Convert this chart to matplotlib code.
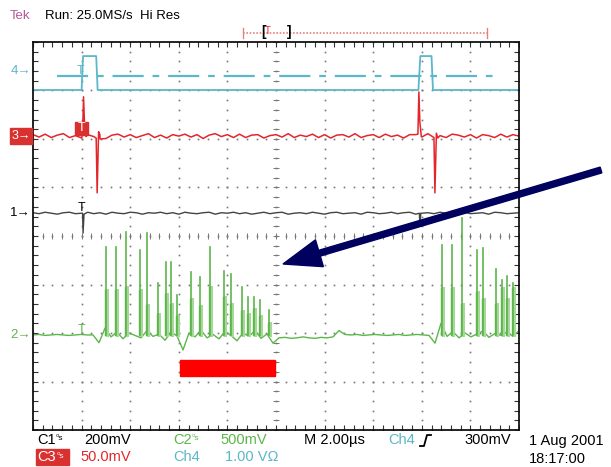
import numpy as np
import matplotlib
matplotlib.use("Agg")
import matplotlib.pyplot as plt
from matplotlib.patches import Rectangle, FancyArrow

plt.rcParams['font.family'] = ['Liberation Sans', 'DejaVu Sans']

# screen is 10 x 8 divisions; values below are in divisions
ch4_t = [0.0, 1.00, 1.03, 1.30, 1.33, 7.93, 7.97, 8.20, 8.23, 10.0]
ch4_v = [7.01, 7.01, 7.71, 7.71, 7.01, 7.01, 7.71, 7.71, 7.01, 7.01]
ch4_trig_level = 7.30

ch3_base = 6.06
ch3_noise = [0.03, -0.02, 0.04, -0.03, 0.02, 0.05, -0.03, 0.01, -0.04, 0.03,
             -0.01, 0.03, -0.05, 0.02, 0.04, -0.02, 0.03, -0.03, 0.01, 0.05,
             -0.03, 0.02, -0.04, 0.03, 0.00, 0.04, -0.02, 0.03, -0.05, 0.02,
             0.05, -0.01, 0.03, -0.03, 0.04, -0.03, 0.02, 0.03, -0.04, 0.01,
             0.03, -0.02, 0.05, -0.03, 0.02, -0.01, 0.04, -0.03, 0.03, -0.04,
             0.02, 0.03, -0.02, 0.05, -0.03, 0.01, 0.03, -0.03, 0.04, -0.01,
             0.02, -0.04, 0.03, 0.03, -0.02, 0.05, -0.03, 0.01, -0.03, 0.04,
             0.02, -0.02, 0.03, -0.04, 0.03, 0.01, -0.03, 0.04, -0.02, 0.03, 0.00]
ch3_spike_t = [1.02, 1.04, 1.06, 1.09, 1.30, 1.32, 1.35, 1.38,
               7.92, 7.94, 7.96, 7.99, 8.25, 8.27, 8.30, 8.33]
ch3_spike_v = [6.10, 6.87, 6.30, 6.05, 6.02, 4.89, 6.15, 6.00,
               6.10, 6.97, 6.35, 6.05, 6.02, 4.89, 6.12, 6.02]

ch1_base = 4.47
ch1_noise = [0.01, -0.01, 0.02, 0.00, -0.02, 0.01, 0.02, -0.01, 0.00, 0.02,
             -0.01, 0.01, -0.02, 0.02, 0.00, -0.01, 0.02, 0.01, -0.02, 0.01,
             0.00, 0.02, -0.01, 0.01, -0.02, 0.02, 0.00, -0.01, 0.01, 0.02,
             -0.02, 0.01, 0.00, 0.02, -0.01, 0.01, -0.02, 0.00, 0.02, -0.01,
             0.01, 0.02, -0.02, 0.00, 0.01, -0.01, 0.02, 0.00, -0.02, 0.01,
             0.02, -0.01, 0.00, 0.01, -0.02, 0.02, 0.01, -0.01, 0.00, 0.02,
             -0.01, 0.01, 0.02, -0.02, 0.00, 0.01, -0.01, 0.02, 0.00, -0.02,
             0.01, 0.02, -0.01, 0.00, 0.01, -0.02, 0.02, 0.01, -0.01, 0.00, 0.01]
ch1_glitch_t = [1.02, 1.03, 1.05, 7.95, 7.96, 7.98]
ch1_glitch_v = [4.47, 4.06, 4.45, 4.47, 4.21, 4.47]

ch2_v = [1.96, 1.97, 1.95, 1.96, 1.97, 1.96, 1.95, 1.96, 1.97, 1.96, 1.96,
         1.80, 2.10, 1.92, 2.02, 1.88, 2.00, 1.95, 1.90, 2.05, 1.93,
         1.98, 1.85, 2.02, 1.94, 1.65, 2.00, 1.92, 2.06, 1.90, 1.97,
         1.88, 2.03, 1.95, 1.84, 2.00, 1.93, 2.05, 1.89, 1.98, 1.79,
         1.90, 1.91, 1.89, 1.90, 1.92, 1.90, 1.89, 1.91, 1.90, 1.92,
         2.05, 1.97, 1.96, 1.97, 1.95, 1.96, 1.97, 1.96, 1.95, 1.96,
         1.97, 1.95, 1.96, 1.97, 1.96, 1.95, 1.79, 2.20, 1.93, 2.03,
         1.90, 2.00, 1.92, 1.98, 2.04, 1.91, 1.99, 1.95, 2.02, 1.93, 2.05]
ch2_spike_t = [1.50, 1.71, 1.91, 2.20, 2.35, 2.57, 2.74, 2.84, 2.96, 3.25,
               3.44, 3.64, 3.93, 4.07, 4.30, 4.42, 4.55, 4.67, 4.86,
               8.42, 8.62, 8.83, 9.14, 9.26, 9.53, 9.65, 9.75, 9.88]
ch2_spike_top = [3.77, 3.77, 4.08, 3.71, 4.06, 3.03, 3.46, 3.46, 2.78, 3.26,
                 3.15, 3.77, 3.28, 3.22, 2.95, 2.74, 2.74, 2.68, 2.47,
                 3.81, 3.81, 4.37, 3.71, 3.75, 3.32, 3.09, 3.18, 3.03]
ch2_spike_mid = [2.89, 2.89, 2.95, 2.89, 2.58, 2.40, 2.80, 2.60, 2.35, 2.70,
                 2.55, 2.95, 2.75, 2.60, 2.45, 2.40, 2.50, 2.35, 2.20,
                 2.93, 2.93, 2.60, 2.85, 2.70, 2.60, 2.93, 2.70, 2.93]

cyan = '#5bb7c9'
red = '#e3262b'
green = '#5cb64a'
pale_green = '#a6d89c'
navy = '#00005e'

fig = plt.figure(figsize=(6.11, 4.67), dpi=100)
ax = fig.add_axes([33 / 611, 37 / 467, 486 / 611, 388 / 467])
ax.set_xlim(0, 10)
ax.set_ylim(0, 8)
ax.set_xticks([])
ax.set_yticks([])
for s in ax.spines.values():
    s.set_linewidth(1.3)
    s.set_color('#111111')

# graticule
fine = np.arange(0, 10.01, 0.2)
fine_y = np.arange(0, 8.01, 0.2)
for k in range(1, 10):
    ax.plot(np.full_like(fine_y, k), fine_y, ls='none', marker='s', ms=1.2, color='#777777', mew=0)
for j in range(1, 8):
    ax.plot(fine, np.full_like(fine, j), ls='none', marker='s', ms=1.2, color='#777777', mew=0)
ax.plot(np.full_like(fine_y, 5), fine_y, ls='none', marker='_', ms=4, color='#777777', mew=0.7)
ax.plot(fine, np.full_like(fine, 4), ls='none', marker='|', ms=4, color='#777777', mew=0.7)
ax.plot(fine, np.full_like(fine, 8), ls='none', marker='|', ms=7, color='#333333', mew=0.8)
ax.plot(fine, np.full_like(fine, 0), ls='none', marker='|', ms=7, color='#333333', mew=0.8)
ax.plot(np.full_like(fine_y, 0), fine_y, ls='none', marker='_', ms=7, color='#333333', mew=0.8)
ax.plot(np.full_like(fine_y, 10), fine_y, ls='none', marker='_', ms=7, color='#333333', mew=0.8)

# channel 4
ax.plot(ch4_t, ch4_v, color=cyan, lw=1.3)
ax.plot([0.49, 9.47], [ch4_trig_level, ch4_trig_level], color=cyan, lw=1.6,
        dashes=(14, 4, 3, 4))
ax.text(0.98, ch4_trig_level - 0.03, 'T', color=cyan, fontsize=9, ha='center', va='bottom')

# channel 3
t81 = np.linspace(0, 10, len(ch3_noise))
r_t = np.concatenate([t81, ch3_spike_t])
r_v = np.concatenate([ch3_base + np.array(ch3_noise), ch3_spike_v])
order = np.argsort(r_t)
ax.plot(r_t[order], r_v[order], color=red, lw=1.1)
ax.add_patch(Rectangle((0.87, 6.08), 0.27, 0.28, color='#d93030', zorder=4))
ax.text(1.005, 6.22, 'T', color='white', fontsize=9, ha='center', va='center', zorder=5)

# channel 1
b_t = np.concatenate([t81, ch1_glitch_t])
b_v = np.concatenate([ch1_base + np.array(ch1_noise), ch1_glitch_v])
order = np.argsort(b_t)
ax.plot(b_t[order], b_v[order], color='#444444', lw=1.0)
ax.text(1.0, ch1_base - 0.02, 'T', color='black', fontsize=9, ha='center', va='bottom')

# channel 2
ax.plot(np.linspace(0, 10, len(ch2_v)), ch2_v, color=green, lw=1.0)
for t0, top, mid in zip(ch2_spike_t, ch2_spike_top, ch2_spike_mid):
    ax.plot([t0 + 0.025, t0 + 0.025], [1.96, mid], color=pale_green, lw=2.2)
    ax.plot([t0 - 0.02, t0 - 0.02], [1.96, mid], color=green, lw=1.0)
    ax.plot([t0, t0], [1.96, top], color=green, lw=1.2)
ax.text(1.0, 1.96 - 0.02, 'T', color=green, fontsize=9, ha='center', va='bottom')

# overlay in pixel coordinates
ov = fig.add_axes([0, 0, 1, 1], zorder=10)
ov.set_xlim(0, 611)
ov.set_ylim(467, 0)
ov.axis('off')
ov.patch.set_alpha(0)

fs = 10.5
ov.text(10, 16, 'Tek', color='#b05a9a', fontsize=9.5, va='center')
ov.text(45, 16, 'Run: 25.0MS/s', color='black', fontsize=9.5, va='center')
ov.text(140, 16, 'Hi Res', color='black', fontsize=9.5, va='center')
ov.text(555, 3, '18:17:00', color='black', fontsize=fs, va='bottom')

# record window indicator
ov.plot([243, 487], [33, 33], color='#e88080', lw=1.2, ls=(0, (1, 1)))
ov.plot([243, 243], [28, 38], color='#e88080', lw=1)
ov.plot([487, 487], [28, 38], color='#e88080', lw=1)
ov.text(264, 32, '[', color='black', fontsize=10, fontweight='bold', ha='center', va='center')
ov.text(289, 32, ']', color='black', fontsize=10, fontweight='bold', ha='center', va='center')
ov.text(268, 31, 'T', color=red, fontsize=7, ha='center', va='center')

# channel ground markers
ov.text(31, 71, '4\u2192', color=cyan, fontsize=9.5, ha='right', va='center')
ov.add_patch(Rectangle((10, 128), 22, 16, color='#d93030'))
ov.text(31, 136, '3\u2192', color='white', fontsize=9, ha='right', va='center')
ov.text(31, 213, '1\u2192', color='black', fontsize=9.5, ha='right', va='center')
ov.text(31, 335, '2\u2192', color=green, fontsize=9.5, ha='right', va='center')

# annotation arrow and bar
ov.add_patch(FancyArrow(601, 170, 283 - 601, 264 - 170, width=6, head_width=28,
                        head_length=38, length_includes_head=True, color=navy))
ov.add_patch(Rectangle((180, 360), 95, 16, color='#ff0000'))

# readout
r1, r2 = 440, 457
ov.text(37, r1, 'C1', color='black', fontsize=fs, va='center')
ov.text(56, r1 - 1, '\u2070s', color='black', fontsize=6, va='center')
ov.text(84, r1, '200mV', color='black', fontsize=fs, va='center')
ov.text(173, r1, 'C2', color=green, fontsize=fs, va='center')
ov.text(192, r1 - 1, '\u2070s', color=green, fontsize=6, va='center')
ov.text(220, r1, '500mV', color=green, fontsize=fs, va='center')
ov.text(304, r1, 'M 2.00\u00b5s', color='black', fontsize=fs, va='center')
ov.text(388, r1, 'Ch4', color=cyan, fontsize=fs, va='center')
ov.plot([420, 424, 427, 431], [446, 446, 435, 435], color='black', lw=1.3)
ov.text(464, r1, '300mV', color='black', fontsize=fs, va='center')
ov.add_patch(Rectangle((36, 449), 33, 16, color='#d93030'))
ov.text(37, r2, 'C3', color='white', fontsize=fs, va='center')
ov.text(57, r2 - 1, '\u2070s', color='white', fontsize=6, va='center')
ov.text(80, r2, '50.0mV', color=red, fontsize=fs, va='center')
ov.text(173, r2, 'Ch4', color=cyan, fontsize=fs, va='center')
ov.text(225, r2, '1.00 V\u03a9', color=cyan, fontsize=fs, va='center')
ov.text(529, 441, '1 Aug 2001', color='black', fontsize=fs, va='center')
ov.text(529, 459, '18:17:00', color='black', fontsize=fs, va='center')

fig.savefig('out.png', dpi=100)
